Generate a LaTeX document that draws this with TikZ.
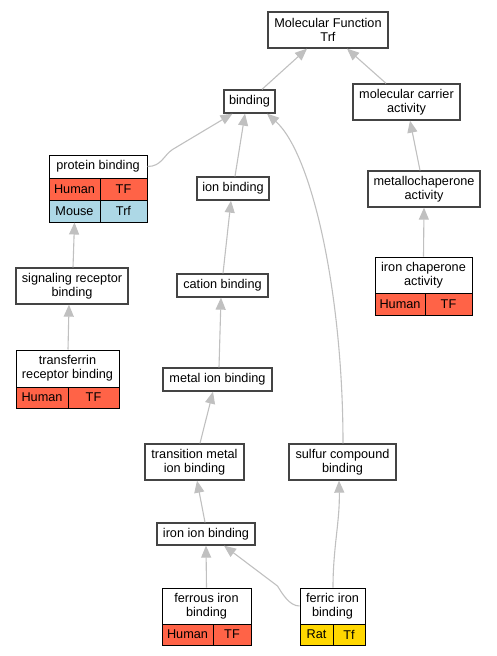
\documentclass[tikz,border=0pt]{standalone}
\usepackage{fontspec}
\setmainfont{Liberation Sans}
\usetikzlibrary{arrows.meta}
\definecolor{hum}{HTML}{FF6347}
\definecolor{mou}{HTML}{ADD8E6}
\definecolor{rat}{HTML}{FFD700}
\definecolor{edgegray}{HTML}{C0C0C0}
\definecolor{boxline}{HTML}{444444}
\tikzset{
  box/.style={draw=boxline, line width=1.3pt, fill=white, inner sep=0pt, align=center,
    font=\fontsize{12.7}{13.6}\selectfont},
  cell/.style={draw=black, line width=1pt, inner sep=0pt, align=center,
    font=\fontsize{12.7}{13.6}\selectfont},
  link/.style={draw=edgegray, line width=1.1pt, -{Triangle[width=10pt,length=12pt]}}
}
\newcommand{\bx}[6]{\node[box, minimum width=#4pt, minimum height=#5pt] (#1) at (#2,#3) {#6};}
\newcommand{\cl}[7]{\node[cell, fill=#6, minimum width=#4pt, minimum height=#5pt] (#1) at (#2,#3) {#7};}
\begin{document}
\begin{tikzpicture}[x=1pt,y=-1pt]
\useasboundingbox (0,0) rectangle (496,656);
% plain boxes
\bx{mf}{328}{30}{120}{36}{Molecular Function\\Trf}
\bx{bind}{249.5}{101.5}{51}{23}{binding}
\bx{mca}{406.5}{102}{107}{36}{molecular carrier\\activity}
\bx{ionb}{233}{188.5}{72}{23}{ion binding}
\bx{metc}{424}{189}{112}{36}{metallochaperone\\activity}
\bx{sig}{72}{286}{112}{36}{signaling receptor\\binding}
\bx{cat}{222.5}{285.5}{91}{23}{cation binding}
\bx{metal}{217.5}{379.5}{109}{23}{metal ion binding}
\bx{trans}{194.5}{462}{99}{36}{transition metal\\ion binding}
\bx{sulf}{342.5}{462}{107}{36}{sulfur compound\\binding}
\bx{iron}{206}{534}{98}{22}{iron ion binding}
% protein binding table
\node[cell, fill=white, minimum width=98pt, minimum height=23pt] (pbh) at (98,166.5) {protein binding};
\cl{pbha}{74.5}{189}{51}{22}{hum}{Human}
\cl{pbhb}{123.5}{189}{47}{22}{hum}{TF}
\cl{pbma}{74.5}{211}{51}{22}{mou}{Mouse}
\cl{pbmb}{123.5}{211}{47}{22}{mou}{Trf}
% iron chaperone activity table
\node[cell, fill=white, minimum width=97pt, minimum height=36pt] (ich) at (423.5,275) {iron chaperone\\activity};
\cl{icha}{400}{304}{50}{22}{hum}{Human}
\cl{ichb}{448.5}{304}{47}{22}{hum}{TF}
% transferrin receptor binding table
\node[cell, fill=white, minimum width=103pt, minimum height=37pt] (trh) at (67.5,368.5) {transferrin\\receptor binding};
\cl{tra}{42}{397.5}{52}{21}{hum}{Human}
\cl{trb}{93.5}{397.5}{51}{21}{hum}{TF}
% ferrous iron binding table
\node[cell, fill=white, minimum width=89pt, minimum height=36pt] (feh) at (206.5,606) {ferrous iron\\binding};
\cl{fea}{187.5}{634.5}{51}{21}{hum}{Human}
\cl{feb}{232}{634.5}{38}{21}{hum}{TF}
% ferric iron binding table
\node[cell, fill=white, minimum width=65pt, minimum height=36pt] (fih) at (332.5,606) {ferric iron\\binding};
\cl{fia}{316.5}{634.5}{33}{21}{rat}{Rat}
\cl{fib}{349}{634.5}{32}{21}{rat}{Tf}
% connectors
\draw[link] ([xshift=12.5pt]bind.north) -- ([xshift=-21pt]mf.south);
\draw[link] ([xshift=-20.5pt]mca.north) -- ([xshift=19pt]mf.south);
\draw[link] (pbh.east) .. controls +(14,0) and +(-9,6) .. ++(25,-17) -- ([xshift=-17pt]bind.south);
\draw[link] ([xshift=2pt]ionb.north) -- ([xshift=-4.5pt]bind.south);
\draw[link] ([xshift=0.5pt]sulf.north) .. controls +(0,-150) and +(45,40) .. ([xshift=17.5pt]bind.south);
\draw[link] ([xshift=-4pt]metc.north) -- ([xshift=3.5pt]mca.south);
\draw[link] (ich.north) -- (metc.south);
\draw[link] ([xshift=1pt]sig.north) -- (pbma.south);
\draw[link] ([xshift=0.5pt]trh.north) -- ([xshift=-3pt]sig.south);
\draw[link] ([xshift=0.5pt]cat.north) -- ([xshift=-2pt]ionb.south);
\draw[link] ([xshift=1.5pt]metal.north) -- ([xshift=-1.5pt]cat.south);
\draw[link] ([xshift=5.5pt]trans.north) -- ([xshift=-4.5pt]metal.south);
\draw[link] ([xshift=-1pt]iron.north) -- ([xshift=2.5pt]trans.south);
\draw[link] (feh.north) -- (iron.south);
\draw[link] (fih.west) .. controls +(-10,0) and +(5,8) .. ++(-22,-20) -- ([xshift=18pt]iron.south);
\draw[link] ([xshift=0.5pt]fih.north) .. controls +(0,-40) and +(1,40) .. ([xshift=-3.5pt]sulf.south);
\end{tikzpicture}
\end{document}
